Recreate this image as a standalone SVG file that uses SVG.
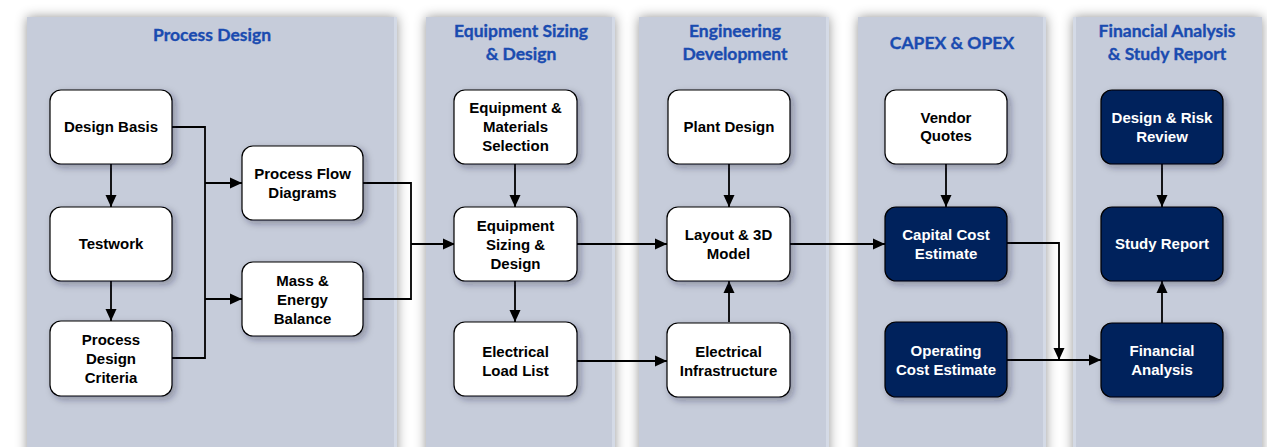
<svg xmlns="http://www.w3.org/2000/svg" width="1267" height="447" viewBox="0 0 1267 447">
  <defs>
    <filter id="laneShadow" x="-10%" y="-10%" width="120%" height="120%">
      <feDropShadow dx="0" dy="0" stdDeviation="6" flood-color="#000" flood-opacity="0.42"/>
    </filter>
    <filter id="nodeShadow" x="-20%" y="-20%" width="150%" height="150%">
      <feDropShadow dx="3" dy="3" stdDeviation="3.5" flood-color="#1a2233" flood-opacity="0.35"/>
    </filter>
    <marker id="arrow" viewBox="0 0 12 12" refX="12" refY="6" markerWidth="12" markerHeight="12" markerUnits="userSpaceOnUse" orient="auto">
      <path d="M0,0.5 L12,6 L0,11.5 Z" fill="#000"/>
    </marker>
    <style>
      .lane { fill: #c6ccda; filter: url(#laneShadow); }
      .laneEdge { fill: #d4dae6; }
      .head { font-family: Lato, "Open Sans", sans-serif; font-weight: bold; font-size: 17.5px; fill: #1a4bb0; stroke: #1a4bb0; stroke-width: 0.35; text-anchor: middle; }
      .box { fill: #ffffff; stroke: #000; stroke-width: 1.2; filter: url(#nodeShadow); }
      .dark { fill: #00205c; stroke: #000; stroke-width: 1.2; filter: url(#nodeShadow); }
      .lbl { font-family: "Liberation Sans", Arial, sans-serif; font-weight: bold; font-size: 15px; fill: #000; text-anchor: middle; }
      .lblw { font-family: "Liberation Sans", Arial, sans-serif; font-weight: bold; font-size: 15px; fill: #fff; text-anchor: middle; }
      .wire { fill: none; stroke: #000; stroke-width: 1.8; }
      .arr { fill: none; stroke: #000; stroke-width: 1.8; marker-end: url(#arrow); }
    </style>
  </defs>

  <rect width="1267" height="447" fill="#ffffff"/>

  <!-- swimlanes -->
  <g id="lanes">
    <rect class="lane" x="27" y="17" width="370" height="450"/>
    <rect class="laneEdge" x="394" y="17" width="3" height="450"/>
    <rect class="lane" x="426" y="17" width="189" height="450"/>
    <rect class="laneEdge" x="612" y="17" width="3" height="450"/>
    <rect class="lane" x="639" y="17" width="190" height="450"/>
    <rect class="laneEdge" x="826" y="17" width="3" height="450"/>
    <rect class="lane" x="858" y="17" width="188" height="450"/>
    <rect class="laneEdge" x="1043" y="17" width="3" height="450"/>
    <rect class="lane" x="1073" y="17" width="189" height="450"/>
    <rect class="laneEdge" x="1073" y="17" width="3" height="450"/>
  </g>

  <!-- lane headings -->
  <g id="headings">
    <text class="head" x="212" y="41">Process Design</text>
    <text class="head" x="521" y="37">Equipment Sizing</text>
    <text class="head" x="521" y="60">&amp; Design</text>
    <text class="head" x="735" y="37">Engineering</text>
    <text class="head" x="735" y="60">Development</text>
    <text class="head" x="952" y="49">CAPEX &amp; OPEX</text>
    <text class="head" x="1167" y="37">Financial Analysis</text>
    <text class="head" x="1167" y="60">&amp; Study Report</text>
  </g>

  <!-- connectors -->
  <g id="connectors">
    <path class="wire" d="M172,127 H205 V358 H172"/>
    <path class="arr" d="M205,183 H242"/>
    <path class="arr" d="M205,299 H242"/>
    <path class="wire" d="M363,183 H411 V299 H363"/>
    <path class="arr" d="M411,244 H455"/>
    <path class="arr" d="M111,164 V207"/>
    <path class="arr" d="M111,281 V321"/>
    <path class="arr" d="M515,164 V207"/>
    <path class="arr" d="M515,281 V322"/>
    <path class="arr" d="M577,244 H667"/>
    <path class="arr" d="M577,361 H667"/>
    <path class="arr" d="M729,164 V207"/>
    <path class="arr" d="M729,322 V281"/>
    <path class="arr" d="M790,244 H885"/>
    <path class="arr" d="M946,164 V207"/>
    <path class="arr" d="M1007,243 H1059 V360"/>
    <path class="arr" d="M1007,360 H1101"/>
    <path class="arr" d="M1162,164 V207"/>
    <path class="arr" d="M1162,323 V281"/>
  </g>

  <!-- Process Design -->
  <g id="design-basis">
    <rect class="box" x="50" y="90" width="122" height="74" rx="11"/>
    <text class="lbl" x="111" y="132">Design Basis</text>
  </g>
  <g id="testwork">
    <rect class="box" x="50" y="207" width="122" height="74" rx="11"/>
    <text class="lbl" x="111" y="249">Testwork</text>
  </g>
  <g id="process-design-criteria">
    <rect class="box" x="50" y="321" width="122" height="75" rx="11"/>
    <text class="lbl" x="111" y="345">Process</text>
    <text class="lbl" x="111" y="364">Design</text>
    <text class="lbl" x="111" y="383">Criteria</text>
  </g>
  <g id="process-flow-diagrams">
    <rect class="box" x="242" y="146" width="121" height="74" rx="11"/>
    <text class="lbl" x="302.5" y="179">Process Flow</text>
    <text class="lbl" x="302.5" y="198">Diagrams</text>
  </g>
  <g id="mass-energy-balance">
    <rect class="box" x="242" y="262" width="121" height="74" rx="11"/>
    <text class="lbl" x="302.5" y="286">Mass &amp;</text>
    <text class="lbl" x="302.5" y="305">Energy</text>
    <text class="lbl" x="302.5" y="324">Balance</text>
  </g>

  <!-- Equipment Sizing & Design -->
  <g id="equipment-materials-selection">
    <rect class="box" x="454" y="90" width="123" height="74" rx="11"/>
    <text class="lbl" x="515.5" y="113">Equipment &amp;</text>
    <text class="lbl" x="515.5" y="132">Materials</text>
    <text class="lbl" x="515.5" y="151">Selection</text>
  </g>
  <g id="equipment-sizing-design">
    <rect class="box" x="454" y="207" width="123" height="74" rx="11"/>
    <text class="lbl" x="515.5" y="231">Equipment</text>
    <text class="lbl" x="515.5" y="250">Sizing &amp;</text>
    <text class="lbl" x="515.5" y="269">Design</text>
  </g>
  <g id="electrical-load-list">
    <rect class="box" x="454" y="322" width="123" height="74" rx="11"/>
    <text class="lbl" x="515.5" y="357">Electrical</text>
    <text class="lbl" x="515.5" y="376">Load List</text>
  </g>

  <!-- Engineering Development -->
  <g id="plant-design">
    <rect class="box" x="668" y="90" width="122" height="74" rx="11"/>
    <text class="lbl" x="729" y="132">Plant Design</text>
  </g>
  <g id="layout-3d-model">
    <rect class="box" x="667" y="207" width="123" height="74" rx="11"/>
    <text class="lbl" x="728.5" y="240">Layout &amp; 3D</text>
    <text class="lbl" x="728.5" y="259">Model</text>
  </g>
  <g id="electrical-infrastructure">
    <rect class="box" x="667" y="323" width="123" height="74" rx="11"/>
    <text class="lbl" x="728.5" y="357">Electrical</text>
    <text class="lbl" x="728.5" y="376">Infrastructure</text>
  </g>

  <!-- CAPEX & OPEX -->
  <g id="vendor-quotes">
    <rect class="box" x="885" y="90" width="122" height="74" rx="11"/>
    <text class="lbl" x="946" y="123">Vendor</text>
    <text class="lbl" x="946" y="141">Quotes</text>
  </g>
  <g id="capital-cost-estimate">
    <rect class="dark" x="885" y="207" width="122" height="74" rx="11"/>
    <text class="lblw" x="946" y="240">Capital Cost</text>
    <text class="lblw" x="946" y="259">Estimate</text>
  </g>
  <g id="operating-cost-estimate">
    <rect class="dark" x="885" y="322" width="122" height="75" rx="11"/>
    <text class="lblw" x="946" y="356">Operating</text>
    <text class="lblw" x="946" y="375">Cost Estimate</text>
  </g>

  <!-- Financial Analysis & Study Report -->
  <g id="design-risk-review">
    <rect class="dark" x="1101" y="90" width="122" height="74" rx="11"/>
    <text class="lblw" x="1162" y="123">Design &amp; Risk</text>
    <text class="lblw" x="1162" y="142">Review</text>
  </g>
  <g id="study-report">
    <rect class="dark" x="1101" y="207" width="122" height="74" rx="11"/>
    <text class="lblw" x="1162" y="249">Study Report</text>
  </g>
  <g id="financial-analysis">
    <rect class="dark" x="1101" y="323" width="122" height="74" rx="11"/>
    <text class="lblw" x="1162" y="356">Financial</text>
    <text class="lblw" x="1162" y="375">Analysis</text>
  </g>
</svg>
